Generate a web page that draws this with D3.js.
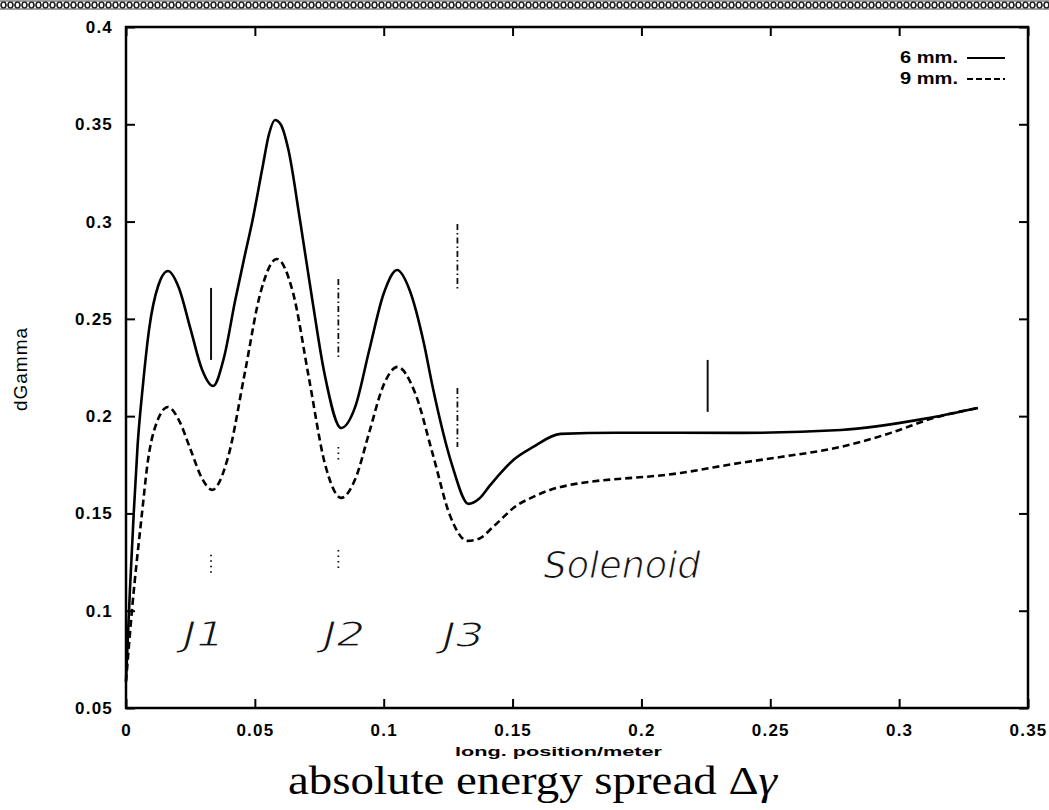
<!DOCTYPE html>
<html>
<head>
<meta charset="utf-8">
<script src="https://cdn.jsdelivr.net/npm/d3@7"></script>
<style>
  html, body { margin: 0; padding: 0; background: #fff; }
  svg { display: block; }
</style>
</head>
<body>
<svg id="chart" width="1049" height="810"></svg>
<script>
// Longitudinal position (m) and energy spread for the 6 mm case
const pos6 = [0, 0.0015, 0.003, 0.0045, 0.0065, 0.009, 0.0125, 0.0163, 0.0205, 0.025, 0.0295, 0.0338,
  0.038, 0.0424, 0.046, 0.049, 0.053, 0.0555, 0.0578, 0.060, 0.063, 0.0676, 0.0723, 0.077, 0.0835,
  0.089, 0.0944, 0.100, 0.1052, 0.110, 0.1155, 0.119, 0.1265, 0.1329, 0.137, 0.141, 0.1455, 0.1503,
  0.158, 0.1686, 0.19, 0.2385, 0.2774, 0.3096, 0.3306];
const gamma6 = [0.064, 0.11, 0.15, 0.185, 0.215, 0.245, 0.267, 0.2746, 0.266, 0.245, 0.224, 0.2155,
  0.230, 0.2597, 0.282, 0.300, 0.328, 0.345, 0.3522, 0.350, 0.337, 0.300, 0.2597, 0.222, 0.1939,
  0.205, 0.234, 0.263, 0.2751, 0.265, 0.238, 0.215, 0.175, 0.1549, 0.1575, 0.164, 0.171, 0.1775,
  0.1842, 0.1909, 0.1915, 0.1914, 0.1929, 0.1986, 0.2042];

// Same quantities for the 9 mm case
const pos9 = [0, 0.0023, 0.0062, 0.0085, 0.012, 0.0163, 0.0205, 0.025, 0.0295, 0.0334, 0.0397, 0.046,
  0.0522, 0.0585, 0.0648, 0.071, 0.0772, 0.0835, 0.089, 0.0944, 0.0998, 0.1053, 0.1121, 0.119, 0.1257,
  0.1325, 0.137, 0.142, 0.146, 0.1503, 0.158, 0.1686, 0.2152, 0.2385, 0.254, 0.2774, 0.2968, 0.3135, 0.3306];
const gamma9 = [0.0635, 0.10, 0.15, 0.177, 0.197, 0.2047, 0.198, 0.183, 0.168, 0.1621, 0.1794, 0.2215,
  0.2635, 0.2808, 0.2635, 0.2194, 0.1755, 0.158, 0.1678, 0.1917, 0.2155, 0.2253, 0.2122, 0.1806, 0.149,
  0.1359, 0.137, 0.1425, 0.1475, 0.1528, 0.1585, 0.1636, 0.1708, 0.176, 0.179, 0.1842, 0.1914, 0.1991, 0.2042];

const xTickValues = [0, 0.05, 0.1, 0.15, 0.2, 0.25, 0.3, 0.35];
const xTickLabels = ["0", "0.05", "0.1", "0.15", "0.2", "0.25", "0.3", "0.35"];
const yTickValues = [0.05, 0.1, 0.15, 0.2, 0.25, 0.3, 0.35, 0.4];
const yTickLabels = ["0.05", "0.1", "0.15", "0.2", "0.25", "0.3", "0.35", "0.4"];

const seriesNames = ["6 mm.", "9 mm."];

// Hand-drawn element markers: position and vertical extent
const markerPos = [0.0330, 0.0330, 0.0824, 0.0824, 0.0824, 0.1286, 0.1286, 0.2257];
const markerTop = [0.2659, 0.1287, 0.2705, 0.1842, 0.1312, 0.2988, 0.2145, 0.2289];
const markerBottom = [0.2289, 0.1174, 0.2289, 0.1765, 0.1220, 0.2654, 0.1842, 0.2022];
const markerKind = ["solid", "dot", "dashdot", "dot", "dot", "dashdot", "dashdot", "solid"];

// Handwritten element names
const noteText = ["J1", "J2", "J3", "Solenoid"];
const notePos = [0.0221, 0.0765, 0.1228, 0.1620];
const noteLevel = [0.0820, 0.0820, 0.0815, 0.1170];

const svg = d3.select("#chart");
const W = 1049, H = 810;
const m = { left: 126, right: 1028, top: 27, bottom: 708 };

const x = d3.scaleLinear().domain([0, 0.35]).range([m.left, m.right]);
const y = d3.scaleLinear().domain([0.05, 0.4]).range([m.bottom, m.top]);

// Dithered band along the top edge
const defs = svg.append("defs");
const pat = defs.append("pattern").attr("id", "band").attr("patternUnits", "userSpaceOnUse")
  .attr("width", 7).attr("height", 10);
pat.append("ellipse").attr("cx", 3.5).attr("cy", 5).attr("rx", 2.4).attr("ry", 3)
  .attr("fill", "none").attr("stroke", "#222").attr("stroke-width", 1.6);
pat.append("path").attr("d", "M0,1 L7,1 M0,9 L7,9 M0,5 L1,5 M6,5 L7,5")
  .attr("stroke", "#444").attr("stroke-width", 1.1);
svg.append("rect").attr("x", 0).attr("y", 0).attr("width", W).attr("height", 10).attr("fill", "url(#band)");

const tickFont = "'Liberation Sans', Arial, sans-serif";

// Axes with inward ticks
const ax = svg.append("g").attr("class", "axes");
const bottomAxis = d3.axisBottom(x).tickValues(xTickValues).tickFormat((d, i) => xTickLabels[i])
  .tickSizeInner(-9).tickSizeOuter(0).tickPadding(16);
const topAxis = d3.axisTop(x).tickValues(xTickValues).tickFormat("").tickSizeInner(-9).tickSizeOuter(0);
const leftAxis = d3.axisLeft(y).tickValues(yTickValues).tickFormat((d, i) => yTickLabels[i])
  .tickSizeInner(-9).tickSizeOuter(0).tickPadding(13);
const rightAxis = d3.axisRight(y).tickValues(yTickValues).tickFormat("").tickSizeInner(-9).tickSizeOuter(0);

ax.append("g").attr("transform", `translate(0,${m.bottom})`).call(bottomAxis);
ax.append("g").attr("transform", `translate(0,${m.top})`).call(topAxis);
ax.append("g").attr("transform", `translate(${m.left},0)`).call(leftAxis);
ax.append("g").attr("transform", `translate(${m.right},0)`).call(rightAxis);
ax.selectAll(".domain").remove();
ax.selectAll(".tick line").attr("stroke", "#000").attr("stroke-width", 2);
ax.selectAll(".tick text").attr("fill", "#000").style("font-family", tickFont)
  .style("font-weight", "bold").style("font-size", "17px").style("letter-spacing", "1.2px");

// Plot frame
svg.append("rect").attr("x", m.left).attr("y", m.top)
  .attr("width", m.right - m.left).attr("height", m.bottom - m.top)
  .attr("fill", "none").attr("stroke", "#000").attr("stroke-width", 2.5);

// Curves
const line = d3.line().x(d => x(d[0])).y(d => y(d[1])).curve(d3.curveMonotoneX);
const data6 = pos6.map((p, i) => [p, gamma6[i]]);
const data9 = pos9.map((p, i) => [p, gamma9[i]]);

svg.append("path").datum(data6).attr("d", line).attr("fill", "none")
  .attr("stroke", "#000").attr("stroke-width", 2.6).attr("stroke-linejoin", "round");
svg.append("path").datum(data9).attr("d", line).attr("fill", "none")
  .attr("stroke", "#000").attr("stroke-width", 2.6).attr("stroke-dasharray", "7,4");

// Element markers
const dashFor = { solid: null, dot: "1.5,4", dashdot: "6,3,1.5,3" };
svg.append("g").selectAll("line").data(markerPos).join("line")
  .attr("x1", d => x(d)).attr("x2", d => x(d))
  .attr("y1", (d, i) => y(markerTop[i])).attr("y2", (d, i) => y(markerBottom[i]))
  .attr("stroke", "#111")
  .attr("stroke-width", (d, i) => markerKind[i] === "solid" ? 2 : 1.8)
  .attr("stroke-dasharray", (d, i) => dashFor[markerKind[i]]);

// Handwritten labels
svg.append("g").selectAll("text").data(noteText).join("text")
  .attr("x", (d, i) => x(notePos[i])).attr("y", (d, i) => y(noteLevel[i]))
  .attr("text-anchor", "start")
  .style("font-family", "'DejaVu Sans', sans-serif")
  .style("font-style", "italic")
  .style("font-size", (d, i) => i === 3 ? "38px" : "34px")
  .attr("textLength", (d, i) => i === 3 ? 157 : 42)
  .attr("lengthAdjust", "spacingAndGlyphs")
  .attr("fill", "#111").attr("stroke", "#fff").attr("stroke-width", 1.1)
  .text(d => d);

// Legend
const legend = svg.append("g");
seriesNames.forEach((name, i) => {
  const ly = 57 + i * 21;
  legend.append("text").attr("x", 958).attr("y", ly).attr("dy", "0.35em")
    .attr("text-anchor", "end").style("font-family", tickFont)
    .attr("textLength", 58).attr("lengthAdjust", "spacingAndGlyphs")
    .style("font-weight", "bold").style("font-size", "17px").text(name);
  legend.append("line").attr("x1", 967).attr("x2", 1005).attr("y1", ly + 1).attr("y2", ly + 1)
    .attr("stroke", "#000").attr("stroke-width", 2)
    .attr("stroke-dasharray", i === 0 ? null : "6,3");
});

// Axis titles
svg.append("text")
  .attr("transform", `translate(27,369) rotate(-90)`)
  .attr("text-anchor", "middle")
  .style("font-family", tickFont).style("font-size", "19px").style("letter-spacing", "1px")
  .text("dGamma");

svg.append("text").attr("x", 455).attr("y", 756)
  .attr("textLength", 207).attr("lengthAdjust", "spacingAndGlyphs")
  .style("font-family", tickFont).style("font-weight", "bold").style("font-size", "13px")
  .text("long. position/meter");

// Caption
const cap = svg.append("text").attr("x", 288).attr("y", 794)
  .attr("textLength", 489).attr("lengthAdjust", "spacingAndGlyphs")
  .style("font-family", "'Liberation Serif', 'Times New Roman', serif").style("font-size", "41px");
cap.append("tspan").text("absolute energy spread \u0394");
cap.append("tspan").style("font-style", "italic").text("\u03B3");
</script>
</body>
</html>
